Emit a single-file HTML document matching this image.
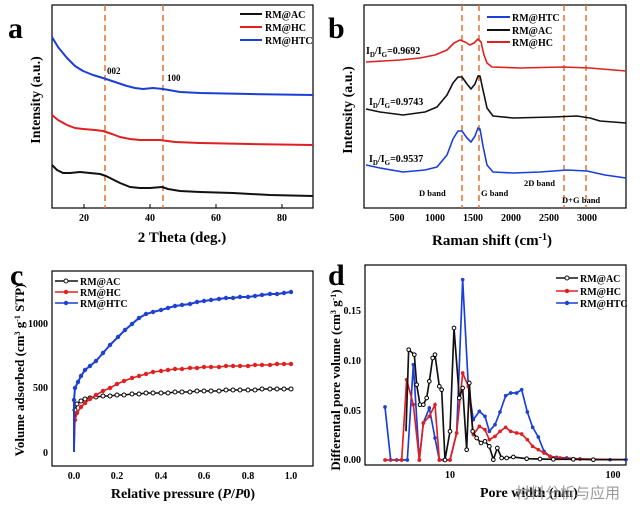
<!DOCTYPE html>
<html><head><meta charset="utf-8"><style>
html,body{margin:0;padding:0;background:#fff}
svg{display:block;font-family:"Liberation Serif",serif;font-weight:bold}
</style></head><body>
<svg width="640" height="516" viewBox="0 0 640 516" xmlns="http://www.w3.org/2000/svg">
<defs>
<marker id="mk" markerUnits="userSpaceOnUse" markerWidth="8" markerHeight="8" refX="4" refY="4"><circle cx="4" cy="4" r="2" fill="#fff" stroke="#000" stroke-width="1"/></marker>
<marker id="mr" markerUnits="userSpaceOnUse" markerWidth="8" markerHeight="8" refX="4" refY="4"><circle cx="4" cy="4" r="2.2" fill="#e02020"/></marker>
<marker id="mb" markerUnits="userSpaceOnUse" markerWidth="8" markerHeight="8" refX="4" refY="4"><circle cx="4" cy="4" r="2.2" fill="#2040d0"/></marker>
<marker id="mk3" markerUnits="userSpaceOnUse" markerWidth="24" markerHeight="24" refX="12" refY="12"><circle cx="12" cy="12" r="5.5" fill="#fff" stroke="#000" stroke-width="3"/></marker>
<marker id="mr3" markerUnits="userSpaceOnUse" markerWidth="24" markerHeight="24" refX="12" refY="12"><circle cx="12" cy="12" r="5.5" fill="#e02020"/></marker>
<marker id="mb3" markerUnits="userSpaceOnUse" markerWidth="24" markerHeight="24" refX="12" refY="12"><circle cx="12" cy="12" r="5.5" fill="#2040d0"/></marker>
</defs>

<!-- Panel a -->
<text x="8" y="38" font-size="30">a</text>
<rect x="52" y="5" width="261" height="203" fill="none" stroke="#000" stroke-width="1.2"/>
<g stroke="#000" stroke-width="1"><line x1="84" y1="208" x2="84" y2="204"/><line x1="150" y1="208" x2="150" y2="204"/><line x1="216" y1="208" x2="216" y2="204"/><line x1="282" y1="208" x2="282" y2="204"/></g>
<g font-size="10" text-anchor="middle"><text x="84" y="221">20</text><text x="150" y="221">40</text><text x="216" y="221">60</text><text x="282" y="221">80</text></g>
<text x="182" y="242" font-size="15" text-anchor="middle">2 Theta (deg.)</text>
<text transform="translate(40,100) rotate(-90)" font-size="14" text-anchor="middle">Intensity (a.u.)</text>
<g stroke="#e07030" stroke-width="1.5" stroke-dasharray="6,4"><line x1="105" y1="5" x2="105" y2="208"/><line x1="163" y1="5" x2="163" y2="208"/></g>
<text x="107" y="74" font-size="9">002</text><text x="167" y="81" font-size="9">100</text>
<g fill="none" stroke-width="2" stroke-linejoin="round">
<polyline stroke="#1a3fd8" points="52,37 58,47 67,58 75,66 83,71 93,75 103,78 115,82 127,86 135,88 143,89 153,88 163,89 180,92 200,93 250,94 313,95"/>
<polyline stroke="#e02020" points="52,115 58,120 67,125 75,128 83,129 95,130 103,131 112,134 120,137 130,139 140,140 150,140 160,140 175,142 200,143 250,144 313,145"/>
<polyline stroke="#111" points="52,165 57,170 63,173 70,173 80,172 90,173 100,174 106,176 112,179 120,183 130,187 140,188 150,188 162,187 168,189 180,191 200,192 233,193 270,195 313,196"/>
</g>
<g stroke-width="2"><line x1="240" y1="14" x2="262" y2="14" stroke="#111"/><line x1="240" y1="27" x2="262" y2="27" stroke="#e02020"/><line x1="240" y1="40" x2="262" y2="40" stroke="#1a3fd8"/></g>
<g font-size="10"><text x="265" y="18">RM@AC</text><text x="265" y="31">RM@HC</text><text x="265" y="44">RM@HTC</text></g>

<!-- Panel b -->
<text x="328" y="38" font-size="30">b</text>
<rect x="364" y="5" width="262" height="203" fill="none" stroke="#000" stroke-width="1.2"/>
<g font-size="10" text-anchor="middle"><text x="397" y="221">500</text><text x="435" y="221">1000</text><text x="473" y="221">1500</text><text x="511" y="221">2000</text><text x="549" y="221">2500</text><text x="587" y="221">3000</text></g>
<text x="492" y="245" font-size="15" text-anchor="middle">Raman shift (cm<tspan baseline-shift="super" font-size="10">-1</tspan>)</text>
<text transform="translate(352,110) rotate(-90)" font-size="14" text-anchor="middle">Intensity (a.u.)</text>
<g stroke="#e07030" stroke-width="1.5" stroke-dasharray="6,4"><line x1="462" y1="5" x2="462" y2="208"/><line x1="479" y1="5" x2="479" y2="208"/><line x1="564" y1="5" x2="564" y2="208"/><line x1="586" y1="5" x2="586" y2="208"/></g>
<g fill="none" stroke-width="1.6" stroke-linejoin="round">
<polyline stroke="#e02020" points="366,62 400,60 420,58 435,55 447,50 454,43 460,40 465,42 470,45 474,43 478,39 481,42 484,55 487,63 492,67 520,68 563,67 590,68 626,71"/>
<polyline stroke="#111" points="366,109 380,112 403,115 425,112 437,107 447,95 453,83 458,77 462,77 467,84 471,89 475,84 478,76 480,76 483,90 487,108 493,116 513,118 553,117 577,116 590,118 600,121 626,123"/>
<polyline stroke="#1a3fd8" points="366,165 380,168 403,172 425,170 437,167 447,155 453,139 458,131 462,131 467,138 471,142 475,136 478,128 480,129 483,146 487,165 493,172 513,173 540,172 567,170 587,171 605,175 626,178"/>
</g>
<g font-size="10"><text x="366" y="54">I<tspan font-size="7" dy="3">D</tspan><tspan dy="-3">/I</tspan><tspan font-size="7" dy="3">G</tspan><tspan dy="-3">=0.9692</tspan></text>
<text x="369" y="105">I<tspan font-size="7" dy="3">D</tspan><tspan dy="-3">/I</tspan><tspan font-size="7" dy="3">G</tspan><tspan dy="-3">=0.9743</tspan></text>
<text x="369" y="162">I<tspan font-size="7" dy="3">D</tspan><tspan dy="-3">/I</tspan><tspan font-size="7" dy="3">G</tspan><tspan dy="-3">=0.9537</tspan></text></g>
<g font-size="8.5"><text x="419" y="196">D band</text><text x="481" y="196">G band</text><text x="524" y="186">2D band</text><text x="562" y="203">D+G band</text></g>
<g stroke-width="2"><line x1="487" y1="17" x2="510" y2="17" stroke="#1a3fd8"/><line x1="487" y1="30" x2="510" y2="30" stroke="#111"/><line x1="487" y1="42" x2="510" y2="42" stroke="#e02020"/></g>
<g font-size="10"><text x="512" y="21">RM@HTC</text><text x="512" y="34">RM@AC</text><text x="512" y="46">RM@HC</text></g>

<!-- Panel c -->
<text x="10" y="285" font-size="30">c</text>
<rect x="52" y="271" width="261" height="195" fill="none" stroke="#000" stroke-width="1.2"/>
<g font-size="10" text-anchor="end"><text x="48" y="456">0</text><text x="48" y="391">500</text><text x="48" y="327">1000</text></g>
<g font-size="10" text-anchor="middle"><text x="74" y="479">0.0</text><text x="117" y="479">0.2</text><text x="161" y="479">0.4</text><text x="204" y="479">0.6</text><text x="248" y="479">0.8</text><text x="291" y="479">1.0</text></g>
<text x="183" y="498" font-size="14" text-anchor="middle">Relative pressure (<tspan font-style="italic">P</tspan>/<tspan font-style="italic">P</tspan>0)</text>
<text transform="translate(24,370) rotate(-90)" font-size="13" text-anchor="middle">Volume adsorbed (cm<tspan baseline-shift="super" font-size="8">3</tspan> g<tspan baseline-shift="super" font-size="8">-1</tspan> STP)</text>
<g fill="none" stroke-width="1.6">
<polyline stroke="#111" marker-mid="url(#mk)" marker-end="url(#mk)" points="74,452 75,410 77,404 81,401 85,399 90,398 96,397 103,396 110,396 117,395 124,395 132,394 139,394 146,393 153,393 161,393 168,393 175,392 182,392 190,392 197,391 204,391 211,391 219,391 226,390 233,390 240,390 248,390 255,390 262,389 270,389 277,389 284,389 291,389"/>
<polyline stroke="#e02020" marker-mid="url(#mr)" marker-end="url(#mr)" points="74,452 75,420 77,413 81,407 85,403 90,399 96,395 103,391 110,388 117,384 124,381 132,378 139,376 146,374 153,372 161,371 168,370 175,369 182,369 190,368 197,368 204,367 211,367 219,367 226,366 233,366 240,366 248,366 255,365 262,365 270,365 277,364 284,364 291,364"/>
<polyline stroke="#1a3fd8" stroke-width="2" marker-mid="url(#mb)" marker-end="url(#mb)" points="74,452 74,400 75,388 78,382 81,376 85,370 90,366 96,361 103,353 110,345 118,337 125,330 132,324 139,318 146,314 153,312 161,310 168,308 175,306 182,305 190,304 197,302 204,301 211,300 219,299 226,298 233,298 240,297 248,297 255,296 262,295 270,294 277,294 284,293 291,292"/>
</g>
<g stroke-width="1.5"><line x1="55" y1="281" x2="78" y2="281" stroke="#111"/><line x1="55" y1="292" x2="78" y2="292" stroke="#e02020"/><line x1="55" y1="303" x2="78" y2="303" stroke="#1a3fd8"/></g>
<circle cx="66" cy="281" r="2" fill="#fff" stroke="#111"/><circle cx="66" cy="292" r="2.2" fill="#e02020"/><circle cx="66" cy="303" r="2.2" fill="#2040d0"/>
<g font-size="10"><text x="80" y="285">RM@AC</text><text x="80" y="296">RM@HC</text><text x="80" y="307">RM@HTC</text></g>

<!-- Panel d -->
<text x="328" y="285" font-size="30">d</text>
<rect x="365" y="265" width="261" height="200" fill="none" stroke="#000" stroke-width="1.2"/>
<g font-size="10" text-anchor="end"><text x="361" y="463">0.00</text><text x="361" y="414">0.05</text><text x="361" y="364">0.10</text><text x="361" y="314">0.15</text></g>
<g font-size="10" text-anchor="middle"><text x="450" y="478">10</text><text x="613" y="478">100</text></g>
<text x="480" y="497" font-size="14">Pore width (nm)</text>
<text transform="translate(340,380) rotate(-90)" font-size="13" text-anchor="middle">Differental pore volume (cm<tspan baseline-shift="super" font-size="8">3</tspan> g<tspan baseline-shift="super" font-size="8">-1</tspan>)</text>
<g transform="translate(320,258) scale(0.33333)" fill="none" stroke-width="5">
<polyline stroke="#1a3fd8" marker-mid="url(#mb3)" marker-start="url(#mb3)" marker-end="url(#mb3)" points="195,447 212,606 230,606 245,606 262,606 280,320 298,606 310,495 328,450 345,540 358,606 372,606 390,606 410,525 428,65 445,385 460,485 478,460 495,475 508,520 525,500 540,462 557,413 572,405 590,405 605,395 622,462 638,508 655,537 672,580 690,595 710,598 740,600 780,603 820,604 870,605 918,605"/>
<polyline stroke="#e02020" marker-mid="url(#mr3)" marker-start="url(#mr3)" points="195,606 245,606 260,365 280,440 298,606 310,495 328,475 345,440 358,606 390,606 410,525 428,345 445,385 460,530 478,505 495,515 508,545 525,535 540,520 557,508 572,520 590,525 605,528 622,545 638,565 655,575 672,585 690,595 720,600 780,603 918,605"/>
<polyline stroke="#111" marker-mid="url(#mk3)" points="258,520 266,275 283,290 290,380 300,440 310,440 320,420 328,370 338,300 345,290 358,385 365,395 375,606 390,520 402,210 418,420 428,390 440,575 448,375 458,520 470,540 483,555 495,550 508,565 520,605 532,570 545,600 560,600 580,597 620,602 660,603 700,604 760,604 820,605 918,605"/>
</g>
<g stroke-width="1.5"><line x1="556" y1="278" x2="578" y2="278" stroke="#111"/><line x1="556" y1="291" x2="578" y2="291" stroke="#e02020"/><line x1="556" y1="303" x2="578" y2="303" stroke="#1a3fd8"/></g>
<circle cx="567" cy="278" r="2" fill="#fff" stroke="#111"/><circle cx="567" cy="291" r="2.2" fill="#e02020"/><circle cx="567" cy="303" r="2.2" fill="#2040d0"/>
<g font-size="10"><text x="580" y="282">RM@AC</text><text x="580" y="295">RM@HC</text><text x="580" y="307">RM@HTC</text></g>
<text x="515" y="498" font-size="15" font-weight="normal" fill="#888" fill-opacity="0.85" style="font-family:'Noto Sans CJK SC',sans-serif">材料分析与应用</text>
</svg>
</body></html>
